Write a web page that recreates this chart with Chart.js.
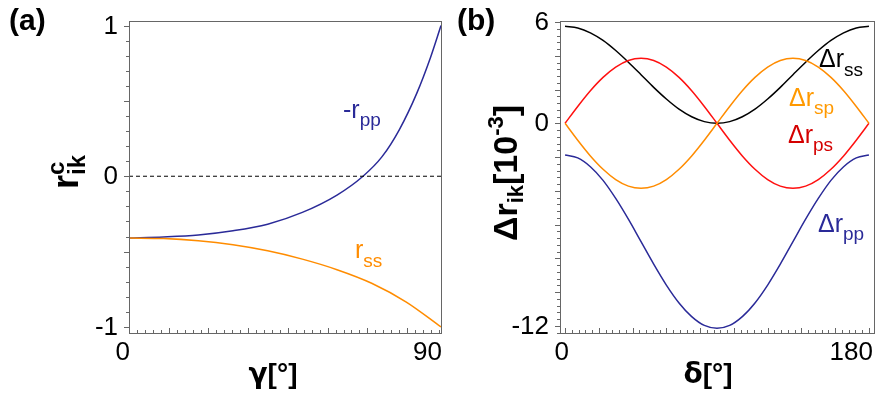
<!DOCTYPE html>
<html>
<head>
<meta charset="utf-8">
<script src="https://cdn.jsdelivr.net/npm/chart.js@4.4.0/dist/chart.umd.min.js"></script>
<style>
  html, body { margin: 0; padding: 0; background: #fff; }
  #wrap { position: relative; width: 880px; height: 397px; }
  #chartA { position: absolute; left: 0; top: 0; }
  #chartB { position: absolute; left: 450px; top: 0; }
</style>
</head>
<body>
<div id="wrap">
  <canvas id="chartA" width="450" height="397"></canvas>
  <canvas id="chartB" width="430" height="397"></canvas>
</div>
<script>
// panel (a): r^c_ik against gamma
const gammaPP = [0, 10, 20, 30, 40, 50, 60, 67.5, 73, 78, 83, 87, 90];
const rPP = [-0.41, -0.403, -0.39, -0.362, -0.318, -0.24, -0.125, 0, 0.13, 0.31, 0.55, 0.79, 1.0];
const gammaSS = [0, 10, 20, 30, 40, 50, 60, 70, 80, 90];
const rSS = [-0.41, -0.413, -0.428, -0.455, -0.495, -0.55, -0.62, -0.71, -0.835, -1.0];
const zeroX = [0, 90];
const zeroY = [0, 0];
const aXTicks = [0, 90];
const aYTicks = [1, 0, -1];

// panel (b): delta r_ik [10^-3] against delta
const delta = [0, 7.5, 15, 22.5, 30, 37.5, 45, 52.5, 60, 67.5, 75, 82.5, 90,
  97.5, 105, 112.5, 120, 127.5, 135, 142.5, 150, 157.5, 165, 172.5, 180];
const dRss = [5.75, 5.65, 5.36, 4.91, 4.31, 3.62, 2.88, 2.13, 1.44, 0.84, 0.39, 0.10, 0,
  0.10, 0.39, 0.84, 1.44, 2.13, 2.88, 3.62, 4.31, 4.91, 5.36, 5.65, 5.75];
const dRps = [0, 1.00, 1.93, 2.72, 3.33, 3.72, 3.85, 3.72, 3.33, 2.72, 1.93, 1.00, 0,
  -1.00, -1.93, -2.72, -3.33, -3.72, -3.85, -3.72, -3.33, -2.72, -1.93, -1.00, 0];
const dRsp = [0, -1.00, -1.93, -2.72, -3.33, -3.72, -3.85, -3.72, -3.33, -2.72, -1.93, -1.00, 0,
  1.00, 1.93, 2.72, 3.33, 3.72, 3.85, 3.72, 3.33, 2.72, 1.93, 1.00, 0];
const dRpp = [-1.88, -2.05, -2.57, -3.38, -4.45, -5.68, -7.01, -8.34, -9.58, -10.64, -11.45, -11.97, -12.14,
  -11.97, -11.45, -10.64, -9.58, -8.34, -7.01, -5.68, -4.45, -3.38, -2.57, -2.05, -1.88];
const bXTicks = [0, 180];
const bYTicks = [6, 0, -12];

const BLUE = '#2a2a98';
const ORANGE = '#ff8c00';
const RED = '#ff1010';
const FONT = '"Liberation Sans", Arial, sans-serif';

function toXY(xs, ys) {
  return xs.map((x, i) => ({ x: x, y: ys[i] }));
}

function runFont(r) {
  return (r.bold ? 'bold ' : '') + r.size + 'px ' + (r.font || FONT);
}

function runsWidth(ctx, runs) {
  let w = 0;
  runs.forEach(r => {
    ctx.font = runFont(r);
    if (!r.stack) w += ctx.measureText(r.t).width;
  });
  return w;
}

// draw text pieces with sub/superscripts on a common baseline
function drawRuns(ctx, x, y, runs, color) {
  ctx.fillStyle = color;
  ctx.textAlign = 'left';
  ctx.textBaseline = 'alphabetic';
  let cx = x;
  runs.forEach(r => {
    ctx.font = runFont(r);
    ctx.fillText(r.t, cx, y + (r.dy || 0));
    if (!r.stack) cx += ctx.measureText(r.t).width;
  });
}

function makeDecor(spec) {
  return {
    id: 'decor',
    afterDraw(chart) {
      const ctx = chart.ctx;
      const a = chart.chartArea;
      const xs = chart.scales.x, ys = chart.scales.y;
      ctx.save();

      // frame
      ctx.strokeStyle = '#666';
      ctx.lineWidth = 1;
      ctx.strokeRect(a.left + 0.5, a.top + 0.5, a.right - a.left, a.bottom - a.top);

      // y tick marks (outside, to the left)
      ctx.beginPath();
      for (let i = Math.ceil(ys.min / spec.yMinor); i <= Math.floor(ys.max / spec.yMinor); i++) {
        const v = i * spec.yMinor;
        const major = Math.abs(v / spec.yMajor - Math.round(v / spec.yMajor)) < 1e-6;
        const py = Math.round(ys.getPixelForValue(v)) + 0.5;
        ctx.moveTo(a.left - (major ? 5 : 3), py);
        ctx.lineTo(a.left, py);
      }
      // x tick marks (inside, pointing up)
      for (let i = Math.ceil(xs.min / spec.xMinor); i <= Math.floor(xs.max / spec.xMinor); i++) {
        const v = i * spec.xMinor;
        const major = Math.abs(v / spec.xMajor - Math.round(v / spec.xMajor)) < 1e-6;
        const px = Math.round(xs.getPixelForValue(v)) + 0.5;
        ctx.moveTo(px, a.bottom);
        ctx.lineTo(px, a.bottom - (major ? 5 : 3));
      }
      ctx.stroke();

      // tick labels
      ctx.fillStyle = '#000';
      ctx.font = '26px ' + FONT;
      ctx.textAlign = 'right';
      ctx.textBaseline = 'middle';
      spec.yTicks.forEach(v => {
        ctx.fillText(String(v), a.left - 11, ys.getPixelForValue(v) + 1);
      });
      spec.xTicks.forEach(v => {
        ctx.fillText(String(v), xs.getPixelForValue(v) + spec.xLabelShift, 353);
      });

      // panel letter
      ctx.font = 'bold 30px ' + FONT;
      ctx.textAlign = 'left';
      ctx.textBaseline = 'alphabetic';
      ctx.fillText(spec.letter, spec.letterX, 30);

      // x title
      const xw = runsWidth(ctx, spec.xTitle);
      drawRuns(ctx, spec.xTitleX - xw / 2, 383, spec.xTitle, '#000');

      // y title (rotated)
      ctx.save();
      ctx.translate(spec.yTitleX, spec.yTitleY);
      ctx.rotate(-Math.PI / 2);
      const w = runsWidth(ctx, spec.yTitle);
      drawRuns(ctx, -w / 2, 0, spec.yTitle, '#000');
      ctx.restore();

      // curve labels
      spec.curveLabels.forEach(l => drawRuns(ctx, l.x, l.y, l.runs, l.color));

      ctx.restore();
    }
  };
}

function panelOptions(xMin, xMax, yMin, yMax, pad) {
  return {
    responsive: false,
    animation: false,
    layout: { padding: pad },
    plugins: { legend: { display: false }, tooltip: { enabled: false } },
    elements: {
      point: { radius: 0 },
      line: { borderWidth: 1.5, cubicInterpolationMode: 'monotone' }
    },
    scales: {
      x: { type: 'linear', display: false, min: xMin, max: xMax },
      y: { type: 'linear', display: false, min: yMin, max: yMax }
    }
  };
}

// panel (a)
new Chart(document.getElementById('chartA'), {
  type: 'line',
  data: {
    datasets: [
      { data: toXY(zeroX, zeroY), borderColor: '#000', borderWidth: 1, borderDash: [4, 3] },
      { data: toXY(gammaSS, rSS), borderColor: ORANGE },
      { data: toXY(gammaPP, rPP), borderColor: BLUE }
    ]
  },
  options: panelOptions(0, 90, -1.04, 1.03, { left: 129, right: 9, top: 21, bottom: 64 }),
  plugins: [makeDecor({
    yMinor: 0.1, yMajor: 0.5,
    xMinor: 0.04 * 180 / Math.PI, xMajor: 0.2 * 180 / Math.PI,
    yTicks: aYTicks, xTicks: aXTicks, xLabelShift: 1,
    letter: '(a)', letterX: 9,
    xTitle: [
      { t: 'γ', size: 28, bold: true, font: '"DejaVu Sans", sans-serif' },
      { t: '[°]', size: 28, bold: true }
    ],
    xTitleX: 273,
    yTitleX: 78, yTitleY: 172,
    yTitle: [
      { t: 'r', size: 36, bold: true },
      { t: 'c', size: 24, bold: true, dy: -14, stack: true },
      { t: 'ik', size: 24, bold: true, dy: 7 }
    ],
    curveLabels: [
      { x: 343, y: 118, color: BLUE, runs: [{ t: '-r', size: 25 }, { t: 'pp', size: 19, dy: 8 }] },
      { x: 355, y: 258, color: ORANGE, runs: [{ t: 'r', size: 25 }, { t: 'ss', size: 19, dy: 9 }] }
    ]
  })]
});

// panel (b)
new Chart(document.getElementById('chartB'), {
  type: 'line',
  data: {
    datasets: [
      { data: toXY(delta, dRpp), borderColor: BLUE },
      { data: toXY(delta, dRsp), borderColor: ORANGE },
      { data: toXY(delta, dRps), borderColor: RED },
      { data: toXY(delta, dRss), borderColor: '#000' }
    ]
  },
  options: panelOptions(-3, 183, -12.42, 6.06, { left: 110, right: 6, top: 21, bottom: 64 }),
  plugins: [makeDecor({
    yMinor: 0.4, yMajor: 2,
    xMinor: 4, xMajor: 20,
    yTicks: bYTicks, xTicks: bXTicks, xLabelShift: 4,
    letter: '(b)', letterX: 7,
    xTitle: [
      { t: 'δ', size: 28, bold: true, font: '"DejaVu Sans", sans-serif' },
      { t: '[°]', size: 28, bold: true }
    ],
    xTitleX: 258,
    yTitleX: 67, yTitleY: 173,
    yTitle: [
      { t: 'Δr', size: 34, bold: true },
      { t: 'ik', size: 22, bold: true, dy: 6 },
      { t: '[10', size: 34, bold: true },
      { t: '-3', size: 22, bold: true, dy: -14 },
      { t: ']', size: 34, bold: true }
    ],
    curveLabels: [
      { x: 369, y: 67, color: '#000', runs: [{ t: 'Δr', size: 25 }, { t: 'ss', size: 19, dy: 9 }] },
      { x: 339, y: 106, color: '#ff9900', runs: [{ t: 'Δr', size: 25 }, { t: 'sp', size: 19, dy: 8 }] },
      { x: 338, y: 143, color: '#d40000', runs: [{ t: 'Δr', size: 25 }, { t: 'ps', size: 19, dy: 8 }] },
      { x: 368, y: 232, color: BLUE, runs: [{ t: 'Δr', size: 25 }, { t: 'pp', size: 19, dy: 8 }] }
    ]
  })]
});
</script>
</body>
</html>
